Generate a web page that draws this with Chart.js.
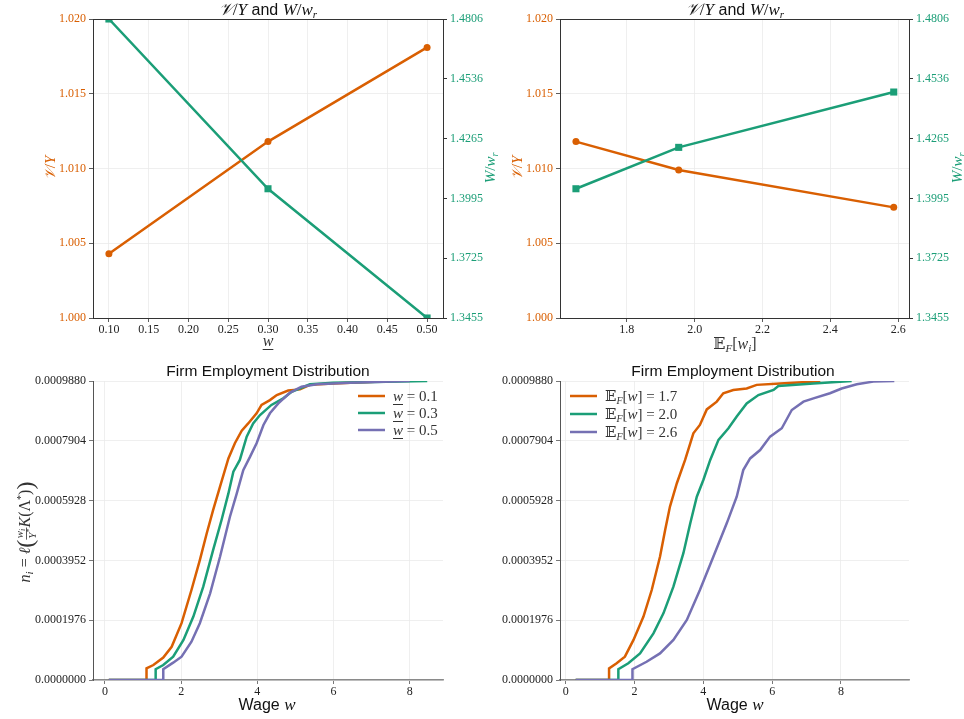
<!DOCTYPE html>
<html>
<head>
<meta charset="utf-8">
<script src="https://cdn.jsdelivr.net/npm/chart.js@4.4.1/dist/chart.umd.min.js"></script>
<style>
  body { margin: 0; background: #fff; }
  .wrap { position: relative; width: 964px; height: 719px; }
  canvas { position: absolute; }
</style>
</head>
<body>
<div class="wrap">
  <canvas id="topLeft" style="left:0;top:0"></canvas>
  <canvas id="topRight" style="left:482px;top:0"></canvas>
  <canvas id="botLeft" style="left:0;top:360px"></canvas>
  <canvas id="botRight" style="left:482px;top:360px"></canvas>
</div>
<script>
// ---- data: top panels ----
const wageFloor = [0.1, 0.3, 0.5];
const meanWage = [1.65, 1.953, 2.587];
const valueRatioFloor = [1.0043, 1.0118, 1.0181];
const welfareRatioFloor = [1.4806, 1.4039, 1.3455];
const valueRatioMean = [1.0118, 1.0099, 1.0074];
const welfareRatioMean = [1.4039, 1.4226, 1.4476];
const valueTicks = [1.000, 1.005, 1.010, 1.015, 1.020];
const welfareTicks = [1.3455, 1.3725, 1.3995, 1.4265, 1.4536, 1.4806];
const floorTicks = [0.10, 0.15, 0.20, 0.25, 0.30, 0.35, 0.40, 0.45, 0.50];
const meanTicks = [1.8, 2.0, 2.2, 2.4, 2.6];

// ---- data: employment distributions (employment in units of 1e-4) ----
const wageTicks = [0, 2, 4, 6, 8];
const empTicks = [0, 0.0001976, 0.0003952, 0.0005928, 0.0007904, 0.0009880];

const floorLabels = ['0.1', '0.3', '0.5'];
const wageF1 = [0.10, 1.09, 1.09, 1.27, 1.53, 1.75, 2.01, 2.27, 2.49, 2.67, 2.84, 3.02, 3.24, 3.41, 3.59, 3.76, 3.98, 4.11, 4.33, 4.51, 4.81, 5.12, 5.38, 5.99, 7.40];
const empF1 = [0, 0, 0.385, 0.494, 0.741, 1.097, 1.877, 2.974, 3.962, 4.841, 5.622, 6.392, 7.321, 7.825, 8.240, 8.477, 8.813, 9.090, 9.248, 9.416, 9.564, 9.603, 9.752, 9.801, 9.870];
const wageF3 = [0.10, 1.33, 1.33, 1.53, 1.79, 2.06, 2.32, 2.58, 2.84, 3.06, 3.24, 3.37, 3.54, 3.72, 3.89, 4.07, 4.37, 4.68, 4.90, 5.38, 5.99, 8.46];
const empF3 = [0, 0, 0.356, 0.494, 0.771, 1.324, 2.095, 3.083, 4.298, 5.286, 6.165, 6.886, 7.272, 8.042, 8.477, 8.754, 9.090, 9.307, 9.524, 9.771, 9.821, 9.880];
const wageF5 = [0.10, 1.53, 1.53, 1.79, 2.01, 2.27, 2.49, 2.76, 3.02, 3.28, 3.46, 3.63, 3.81, 3.98, 4.16, 4.33, 4.55, 4.86, 5.16, 5.56, 6.43, 7.74, 8.00];
const empF5 = [0, 0, 0.356, 0.573, 0.771, 1.265, 1.877, 2.865, 4.071, 5.394, 6.165, 6.936, 7.380, 7.825, 8.428, 8.813, 9.139, 9.495, 9.692, 9.771, 9.821, 9.870, 9.880];

const meanLabels = ['1.7', '2.0', '2.6'];
const wageM1 = [0.29, 1.26, 1.26, 1.48, 1.72, 1.97, 2.26, 2.50, 2.74, 2.89, 3.03, 3.23, 3.47, 3.71, 3.90, 4.10, 4.39, 4.58, 4.87, 5.26, 5.55, 6.23, 7.40];
const empM1 = [0, 0, 0.385, 0.553, 0.771, 1.324, 2.095, 2.974, 4.071, 4.960, 5.730, 6.501, 7.272, 8.151, 8.428, 8.941, 9.198, 9.475, 9.584, 9.633, 9.752, 9.801, 9.870];
const wageM2 = [0.29, 1.53, 1.53, 1.82, 2.16, 2.55, 2.84, 3.13, 3.42, 3.62, 3.81, 4.00, 4.20, 4.44, 4.73, 4.97, 5.26, 5.60, 6.04, 6.18, 7.20, 8.31];
const empM2 = [0, 0, 0.356, 0.553, 0.879, 1.541, 2.203, 3.083, 4.189, 5.177, 6.056, 6.610, 7.272, 7.934, 8.319, 8.704, 9.139, 9.416, 9.584, 9.712, 9.801, 9.880];
const wageM3 = [0.29, 1.94, 1.94, 2.35, 2.74, 3.13, 3.52, 3.90, 4.29, 4.68, 4.97, 5.16, 5.36, 5.65, 5.94, 6.28, 6.57, 6.91, 7.20, 7.68, 8.02, 8.46, 8.94, 9.55];
const empM3 = [0, 0, 0.356, 0.603, 0.879, 1.324, 1.986, 2.974, 4.071, 5.177, 6.056, 6.936, 7.321, 7.598, 8.042, 8.319, 8.922, 9.198, 9.307, 9.475, 9.633, 9.771, 9.860, 9.880];

const ORANGE = '#d95f02', GREEN = '#1b9e77', PURPLE = '#7570b3';
const SERIF = "'Liberation Serif', 'DejaVu Serif', serif";
const SANS = "'Liberation Sans', Arial, sans-serif";
const mi = s => `italic ${s}px ${SERIF}`;
const mr = s => `${s}px ${SERIF}`;
const sf = s => `${s}px ${SANS}`;

// draws a run of mixed-font pieces; a piece with num/den is a small stacked fraction
function rich(ctx, parts, x, y, o) {
  o = o || {};
  ctx.save();
  ctx.translate(x, y);
  if (o.rot) ctx.rotate(o.rot);
  ctx.textAlign = 'left';
  ctx.textBaseline = 'alphabetic';
  const width = p => {
    if (p.num) return Math.max(runW(p.num), runW(p.den)) + 2;
    ctx.font = p.f;
    return ctx.measureText(p.t).width + (p.sp || 0);
  };
  const runW = arr => arr.reduce((a, p) => a + width(p), 0);
  const run = (arr, x0, y0) => {
    let cx = x0;
    for (const p of arr) {
      const w = width(p);
      ctx.fillStyle = p.c || o.c || '#222';
      if (p.num) {
        const nw = runW(p.num), dw = runW(p.den);
        run(p.num, cx + (w - nw) / 2, y0 - 7);
        run(p.den, cx + (w - dw) / 2, y0 + 6);
        ctx.fillRect(cx, y0 - 4, w, 0.8);
      } else {
        ctx.font = p.f;
        ctx.fillText(p.t, cx, y0 + (p.dy || 0));
        if (p.u) ctx.fillRect(cx, y0 + 3, w, 1);
      }
      cx += w;
    }
  };
  const total = runW(parts);
  run(parts, o.align === 'left' ? 0 : -total / 2, 0);
  ctx.restore();
}

function fixedTicks(values) {
  return scale => { scale.ticks = values.map(v => ({ value: v })); };
}
function fixW(w) {
  return s => { s.width = w; s.paddingTop = 0; s.paddingBottom = 0; };
}
function fixH(h) {
  return s => { s.height = h; s.paddingLeft = 0; s.paddingRight = 0; };
}

const gridCol = '#ebebeb';
const tickFont = { family: SERIF, size: 12 };

function topChart(id, W, xs, vr, wr, xMin, xMax, xTicks, xFmt, leftW, rightW, drawText) {
  const el = document.getElementById(id);
  el.width = W; el.height = 360;
  el.style.width = W + 'px'; el.style.height = '360px';
  return new Chart(el, {
    type: 'scatter',
    data: {
      datasets: [
        {
          data: xs.map((x, i) => ({ x: x, y: wr[i] })), yAxisID: 'y1',
          showLine: true, borderColor: GREEN, backgroundColor: GREEN, borderWidth: 2.5,
          pointStyle: 'rect', pointRadius: 5, pointBorderWidth: 0, clip: 0, order: 1
        },
        {
          data: xs.map((x, i) => ({ x: x, y: vr[i] })), yAxisID: 'y',
          showLine: true, borderColor: ORANGE, backgroundColor: ORANGE, borderWidth: 2.5,
          pointStyle: 'circle', pointRadius: 3.5, pointBorderWidth: 0, clip: 0, order: 2
        }
      ]
    },
    options: {
      responsive: false, animation: false, events: [],
      layout: { padding: { top: 19, left: 0, right: 0, bottom: 0 }, autoPadding: false },
      plugins: { legend: { display: false }, tooltip: { enabled: false } },
      scales: {
        x: {
          type: 'linear', min: xMin, max: xMax,
          afterBuildTicks: fixedTicks(xTicks), afterFit: fixH(42),
          grid: { color: gridCol, lineWidth: 0.8, tickColor: '#333', tickLength: 4 },
          border: { color: '#333', width: 1 },
          ticks: { font: tickFont, color: '#222', padding: 1, maxRotation: 0, callback: xFmt }
        },
        y: {
          position: 'left', min: 1.0, max: 1.02,
          afterBuildTicks: fixedTicks(valueTicks), afterFit: fixW(leftW),
          grid: { color: gridCol, lineWidth: 0.8, tickColor: '#333', tickLength: 4 },
          border: { color: '#333', width: 1 },
          ticks: { font: tickFont, color: ORANGE, padding: 3, callback: v => v.toFixed(3) }
        },
        y1: {
          position: 'right', min: 1.3455, max: 1.4806,
          afterBuildTicks: fixedTicks(welfareTicks), afterFit: fixW(rightW),
          grid: { drawOnChartArea: false, tickColor: '#333', tickLength: 4 },
          border: { color: '#333', width: 1 },
          ticks: { font: tickFont, color: GREEN, padding: 3, callback: v => v.toFixed(4) }
        }
      }
    },
    plugins: [{
      id: 'frame',
      afterDraw(chart) {
        const c = chart.ctx, a = chart.chartArea;
        c.save();
        c.strokeStyle = '#333'; c.lineWidth = 1;
        c.beginPath(); c.moveTo(a.left, a.top + 0.5); c.lineTo(a.right, a.top + 0.5); c.stroke();
        c.restore();
        drawText(c);
      }
    }]
  });
}

function empChart(id, W, series, xMin, xMax, rightPad, legendItems, drawText) {
  const el = document.getElementById(id);
  el.width = W; el.height = 359;
  el.style.width = W + 'px'; el.style.height = '359px';
  const cols = [ORANGE, GREEN, PURPLE];
  return new Chart(el, {
    type: 'scatter',
    data: {
      datasets: series.map((s, k) => ({
        data: s[0].map((x, i) => ({ x: x, y: s[1][i] * 1e-4 })),
        showLine: true, borderColor: cols[k], backgroundColor: cols[k], borderWidth: 2.5,
        pointRadius: 0, clip: 0, order: 3 - k
      }))
    },
    options: {
      responsive: false, animation: false, events: [],
      layout: { padding: { top: 21, left: 0, right: rightPad, bottom: 0 }, autoPadding: false },
      plugins: { legend: { display: false }, tooltip: { enabled: false } },
      scales: {
        x: {
          type: 'linear', min: xMin, max: xMax,
          afterBuildTicks: fixedTicks(wageTicks), afterFit: fixH(39),
          grid: { color: gridCol, lineWidth: 0.8, tickColor: '#555', tickLength: 4 },
          border: { color: '#8a8a8a', width: 1.5 },
          ticks: { font: tickFont, color: '#222', padding: 1, maxRotation: 0, callback: v => String(v) }
        },
        y: {
          position: 'left', min: 0, max: 0.000988,
          afterBuildTicks: fixedTicks(empTicks), afterFit: fixW(W === 482 && rightPad === 39 ? 93 : 78),
          grid: { color: gridCol, lineWidth: 0.8, tickColor: '#555', tickLength: 4 },
          border: { color: '#555', width: 1 },
          ticks: { font: tickFont, color: '#222', padding: 3, callback: v => v.toFixed(7) }
        }
      }
    },
    plugins: [{
      id: 'texts',
      afterDraw(chart) {
        const c = chart.ctx;
        legendItems.forEach((it, k) => {
          c.save();
          c.strokeStyle = cols[k]; c.lineWidth = 2.5;
          c.beginPath(); c.moveTo(it.x0, it.y); c.lineTo(it.x0 + 27, it.y); c.stroke();
          c.restore();
          rich(c, it.parts, it.x0 + 35, it.y + 5, { align: 'left', c: '#333' });
        });
        drawText(c);
      }
    }]
  });
}

const titleParts = [
  { t: '\u{1D4B1}', f: mi(17) }, { t: '/', f: mr(17) }, { t: 'Y', f: mi(17) },
  { t: ' and ', f: sf(16) },
  { t: 'W', f: mi(17) }, { t: '/', f: mr(17) }, { t: 'w', f: mi(17) }, { t: 'r', f: mi(11), dy: 3 }
];
const vyParts = [{ t: '\u{1D4B1}', f: mi(15) }, { t: '/', f: mr(15) }, { t: 'Y', f: mi(15) }];
const wwParts = [{ t: 'W', f: mi(15) }, { t: '/', f: mr(15) }, { t: 'w', f: mi(15) }, { t: 'r', f: mi(10), dy: 3 }];
const UP = -Math.PI / 2;

topChart('topLeft', 500, wageFloor, valueRatioFloor, welfareRatioFloor, 0.08, 0.52, floorTicks,
  v => v.toFixed(2), 93, 57, c => {
    rich(c, titleParts, 268, 15, { c: '#111' });
    rich(c, [{ t: 'w', f: mi(16), u: true }], 268, 346, { c: '#333' });
    rich(c, vyParts, 55, 168, { rot: UP, c: ORANGE });
    rich(c, wwParts, 495, 168, { rot: UP, c: GREEN });
  });

topChart('topRight', 482, meanWage, valueRatioMean, welfareRatioMean, 1.603, 2.632, meanTicks,
  v => v.toFixed(1), 78, 55, c => {
    rich(c, titleParts, 253, 15, { c: '#111' });
    rich(c, [{ t: '\u{1D53C}', f: mr(16) }, { t: 'F', f: mi(11), dy: 3 }, { t: '[', f: mr(16) },
      { t: 'w', f: mi(16) }, { t: 'i', f: mi(11), dy: 3 }, { t: ']', f: mr(16) }], 253, 349, { c: '#333' });
    rich(c, vyParts, 40, 168, { rot: UP, c: ORANGE });
    rich(c, wwParts, 480, 168, { rot: UP, c: GREEN });
  });

const floorLegend = floorLabels.map((lab, k) => ({
  x0: 358, y: 36 + k * 17,
  parts: [{ t: 'w', f: mi(15), u: true }, { t: ' = ' + lab, f: mr(15) }]
}));
const meanLegend = meanLabels.map((lab, k) => ({
  x0: 88, y: 36 + k * 18,
  parts: [{ t: '\u{1D53C}', f: mr(15) }, { t: 'F', f: mi(10), dy: 3 }, { t: '[', f: mr(15) },
    { t: 'w', f: mi(15) }, { t: '] = ' + lab, f: mr(15) }]
}));
const wageLabel = [{ t: 'Wage ', f: sf(16) }, { t: 'w', f: mi(17) }];

empChart('botLeft', 482, [[wageF1, empF1], [wageF3, empF3], [wageF5, empF5]], -0.315, 8.874, 39,
  floorLegend, c => {
    rich(c, [{ t: 'Firm Employment Distribution', f: sf(15.5) }], 268, 16, { c: '#111' });
    rich(c, wageLabel, 267, 350, { c: '#111' });
    rich(c, [
      { t: 'n', f: mi(16) }, { t: 'i', f: mi(11), dy: 3 }, { t: ' = ', f: mr(16) },
      { t: '\u2113', f: mi(16) }, { t: '(', f: mr(24), dy: 3 },
      { num: [{ t: 'w', f: mi(11) }, { t: 'i', f: mi(8), dy: 2 }], den: [{ t: 'Y', f: mi(11) }, { t: '*', f: mr(8), dy: -4 }] },
      { t: 'K', f: mi(16) }, { t: '(\u039B', f: mr(16) }, { t: '*', f: mr(10), dy: -6 }, { t: ')', f: mr(16) },
      { t: ')', f: mr(24), dy: 3 }
    ], 30, 172, { rot: UP, c: '#333' });
  });

empChart('botRight', 482, [[wageM1, empM1], [wageM2, empM2], [wageM3, empM3]], -0.166, 9.977, 55,
  meanLegend, c => {
    rich(c, [{ t: 'Firm Employment Distribution', f: sf(15.5) }], 251, 16, { c: '#111' });
    rich(c, wageLabel, 253, 350, { c: '#111' });
  });
</script>
</body>
</html>
